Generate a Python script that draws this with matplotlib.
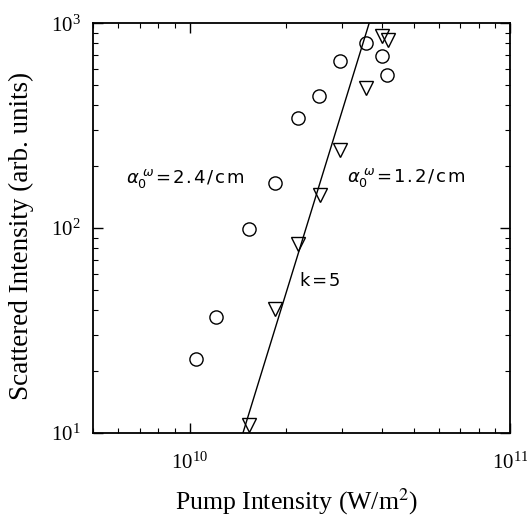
import matplotlib.pyplot as plt
import numpy as np

# data
circ_x = [1.049e10, 1.208e10, 1.529e10, 1.844e10, 2.18e10, 2.536e10, 2.943e10, 3.548e10, 3.972e10, 4.136e10]
circ_y = [22.9, 36.9, 99.5, 167, 343, 441, 654, 798, 696, 557]

tri_x = [1.532e10, 1.853e10, 2.18e10, 2.549e10, 2.943e10, 3.541e10, 3.972e10, 4.166e10]
tri_y = [11.0, 40.1, 84.1, 145, 240, 481, 870, 829]

# k=5 fit line endpoints
fit_x = [1.468e10, 3.634e10]
fit_y = [10, 1000]

plt.rcParams['mathtext.fontset'] = 'stix'

fig = plt.figure(figsize=(5.27, 5.2), dpi=100)
ax = fig.add_axes([0.1765, 0.1673, 0.7913, 0.7879])

ax.plot(fit_x, fit_y, color='black', lw=1.0)
ax.plot(circ_x, circ_y, 'o', ms=9.5, mfc='none', mec='black', mew=1.0)
ax.plot(tri_x, tri_y, 'v', ms=9.5, mfc='none', mec='black', mew=1.0)

ax.set_xscale('log')
ax.set_yscale('log')
ax.set_xlim(5e9, 1e11)
ax.set_ylim(10, 1000)

serif = 'Liberation Serif'
ax.set_xlabel(r'Pump Intensity (W/m$^2$)', family=serif, fontsize=18.5)
ax.set_ylabel('Scattered Intensity (arb. units)', family=serif, fontsize=19.5)
ax.xaxis.set_label_coords(0.488, -0.13)
ax.yaxis.set_label_coords(-0.141, 0.48)

ax.tick_params(which='both', direction='in', top=True, right=True, labelsize=15)
ax.tick_params(axis='x', which='major', length=7, width=1, pad=14)
ax.tick_params(axis='y', which='major', length=7, width=1, pad=9)
ax.tick_params(which='minor', length=3.5, width=0.8)
for lab in ax.get_xticklabels() + ax.get_yticklabels():
    lab.set_family(serif)
for s in ax.spines.values():
    s.set_linewidth(1.3)

hs = '\u200a'
ann = dict(family='DejaVu Sans', fontsize=13, color='black', math_fontfamily='dejavusans', va='baseline')
ax.text(0.079, 0.609, r'$\alpha_0^{\,\,\omega}$' + hs + hs.join('=2.4/cm'), transform=ax.transAxes, **ann)
ax.text(0.608, 0.613, r'$\alpha_0^{\,\,\omega}$' + hs + hs.join('=1.2/cm'), transform=ax.transAxes, **ann)
ax.text(0.496, 0.358, hs.join('k=5'), transform=ax.transAxes, **ann)

fig.savefig('out.png', dpi=100)
